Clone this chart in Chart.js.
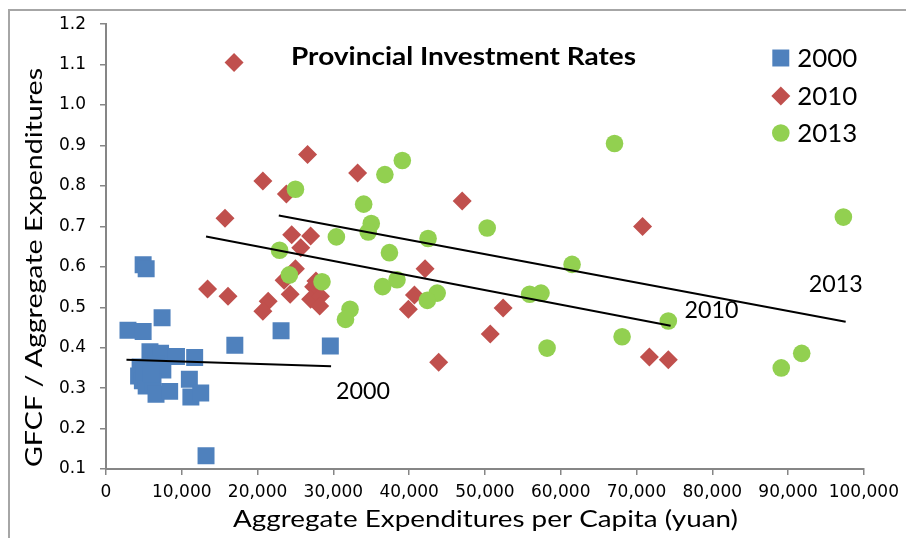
<!DOCTYPE html>
<html><head><meta charset="utf-8">
<script src="https://cdn.jsdelivr.net/npm/chart.js@4.4.1/dist/chart.umd.min.js"></script>
<style>
html,body{margin:0;padding:0;background:#fff;}
#wrap{position:relative;width:906px;height:538px;overflow:hidden;background:#fff;}
#frame{position:absolute;left:8px;top:9px;width:1000px;height:1000px;border:2px solid #a6a6a6;box-sizing:border-box;}
#c{position:absolute;left:0;top:0;}
</style></head><body>
<div id="wrap"><div id="frame"></div><canvas id="c" width="906" height="538"></canvas></div>
<script>
// ---- data ----
const seriesNames = ['2000', '2010', '2013'];
const exp2000 = [2900, 4900, 4900, 5300, 7400, 17000, 23100, 29600, 5800, 7200, 9300, 11700, 4500, 5500, 6600, 7500, 4300, 4800, 5300, 6200, 6600, 8400, 11000, 11200, 12500, 13200, 5000, 6000];
const rate2000 = [0.443, 0.440, 0.605, 0.595, 0.474, 0.406, 0.442, 0.404, 0.390, 0.386, 0.378, 0.376, 0.352, 0.350, 0.360, 0.345, 0.330, 0.318, 0.305, 0.315, 0.285, 0.292, 0.322, 0.278, 0.288, 0.133, 0.340, 0.335];
const exp2010 = [16900, 26600, 20700, 33200, 23800, 15700, 47000, 24500, 27000, 25700, 42100, 25000, 23500, 24300, 27400, 21400, 20700, 27000, 28300, 28200, 40700, 39900, 50700, 43900, 13400, 16100, 52400, 70800, 71700, 74200, 27700];
const rate2010 = [1.105, 0.878, 0.812, 0.832, 0.780, 0.720, 0.763, 0.679, 0.676, 0.647, 0.595, 0.595, 0.567, 0.532, 0.551, 0.515, 0.490, 0.520, 0.527, 0.503, 0.530, 0.495, 0.434, 0.364, 0.545, 0.527, 0.498, 0.700, 0.377, 0.370, 0.565];
const exp2013 = [39100, 36800, 25000, 34000, 35000, 34600, 30400, 42500, 50300, 37400, 22900, 24200, 28500, 38400, 36500, 43700, 42400, 32200, 31600, 67100, 61500, 55900, 57400, 74200, 68100, 58200, 97300, 91800, 89100];
const rate2013 = [0.863, 0.828, 0.792, 0.755, 0.707, 0.686, 0.674, 0.670, 0.696, 0.635, 0.641, 0.580, 0.563, 0.568, 0.551, 0.535, 0.517, 0.495, 0.470, 0.905, 0.606, 0.532, 0.535, 0.466, 0.427, 0.399, 0.723, 0.386, 0.350];
// trend lines (end points)
const trendX2000 = [2700, 29700];  const trendY2000 = [0.370, 0.354];
const trendX2010 = [13200, 74500]; const trendY2010 = [0.675, 0.454];
const trendX2013 = [22800, 97600]; const trendY2013 = [0.727, 0.464];
// trend labels (data coords of text centre)
const trendLabelText = ['2000', '2010', '2013'];
const trendLabelX = [33900, 79900, 96300];
const trendLabelY = [0.293, 0.495, 0.558];
// ticks
const xTickValues = [0, 10000, 20000, 30000, 40000, 50000, 60000, 70000, 80000, 90000, 100000];
const yTickValues = [0.1, 0.2, 0.3, 0.4, 0.5, 0.6, 0.7, 0.8, 0.9, 1.0, 1.1, 1.2];
const chartTitle = 'Provincial Investment Rates';
const xTitle = 'Aggregate Expenditures per Capita (yuan)';
const yTitle = 'GFCF / Aggregate Expenditures';

// ---- build ----
const pts = (xs, ys) => xs.map((x, i) => ({x: x, y: ys[i]}));
const colors = ['#4F81BD', '#C0504D', '#92D050'];
const styles = ['rect', 'rectRot', 'circle'];
const radii = [12, 9.5, 8.8];
function markerSet(i, xs, ys, order) {
  return {label: seriesNames[i], data: pts(xs, ys), pointStyle: styles[i], pointRadius: radii[i], pointHoverRadius: radii[i],
    backgroundColor: colors[i], borderColor: colors[i], pointBorderWidth: 0, showLine: false, order: order};
}
function trendSet(xs, ys) {
  return {label: 'trend', data: pts(xs, ys), showLine: true, pointRadius: 0, borderColor: '#000', borderWidth: 2, fill: false, order: 0};
}
function fmtThousands(v) { return String(Math.round(v)).replace(/\B(?=(\d{3})+(?!\d))/g, ','); }

function fitText(ctx, text, x, y, width, font, align) {
  ctx.save();
  ctx.font = font;
  const w = ctx.measureText(text).width;
  ctx.translate(x, y);
  ctx.scale(width / w, 1);
  ctx.textAlign = align || 'center';
  ctx.textBaseline = 'alphabetic';
  ctx.fillStyle = '#000';
  ctx.fillText(text, 0, 0);
  ctx.restore();
}

const annot = {
  id: 'annot',
  afterDraw(chart) {
    const ctx = chart.ctx, xs = chart.scales.x, ys = chart.scales.y;
    // title
    fitText(ctx, chartTitle, 463.5, 65, 345, 'bold 25px Lato');
    // legend
    const legY = [58, 96, 133];
    const legBase = [67, 105, 142];
    for (let i = 0; i < 3; i++) {
      ctx.save();
      ctx.fillStyle = colors[i]; ctx.strokeStyle = colors[i]; ctx.lineWidth = 0;
      Chart.helpers.drawPoint(ctx, {pointStyle: styles[i], radius: radii[i], borderWidth: 0}, 780.8, legY[i]);
      ctx.restore();
      fitText(ctx, seriesNames[i], 797.3, legBase[i], 60, '25px Lato', 'left');
    }
    // trend labels
    for (let i = 0; i < trendLabelText.length; i++) {
      const cx = xs.getPixelForValue(trendLabelX[i]);
      const cy = ys.getPixelForValue(trendLabelY[i]);
      fitText(ctx, trendLabelText[i], cx, cy + 8.3, 54, '23px Lato');
    }
    // axis titles
    fitText(ctx, xTitle, 485.5, 527, 505, '24px Lato');
    ctx.save();
    ctx.translate(42, 267.5);
    ctx.rotate(-Math.PI / 2);
    fitText(ctx, yTitle, 0, 0, 399, '23px Lato');
    ctx.restore();
  }
};

const axisColor = '#868686';
new Chart(document.getElementById('c'), {
  type: 'scatter',
  data: {datasets: [
    trendSet(trendX2000, trendY2000),
    trendSet(trendX2010, trendY2010),
    trendSet(trendX2013, trendY2013),
    markerSet(0, exp2000, rate2000, 3),
    markerSet(1, exp2010, rate2010, 2),
    markerSet(2, exp2013, rate2013, 1)
  ]},
  options: {
    responsive: false, animation: false, events: [],
    layout: {padding: {top: 21, right: 40, bottom: 0, left: 0}},
    plugins: {legend: {display: false}, tooltip: {enabled: false}, title: {display: false}},
    scales: {
      x: {type: 'linear', min: 0, max: 100000,
        afterBuildTicks: s => { s.ticks = xTickValues.map(v => ({value: v})); },
        afterFit: s => { s.height = 69; },
        ticks: {callback: v => fmtThousands(v), font: {family: 'DejaVu Sans', size: 17}, color: '#000', padding: 7, maxRotation: 0, autoSkip: false},
        grid: {display: true, drawOnChartArea: false, drawTicks: true, tickLength: 6, color: axisColor, lineWidth: 1.5},
        border: {display: true, color: axisColor, width: 2}
      },
      y: {type: 'linear', min: 0.1, max: 1.2,
        afterBuildTicks: s => { s.ticks = yTickValues.map(v => ({value: v})); },
        afterFit: s => { s.width = 106; },
        ticks: {callback: v => Number(v).toFixed(1), font: {family: 'DejaVu Sans', size: 17}, color: '#000', padding: 14, autoSkip: false},
        grid: {display: true, drawOnChartArea: false, drawTicks: true, tickLength: 6, color: axisColor, lineWidth: 1.5},
        border: {display: true, color: axisColor, width: 2}
      }
    }
  },
  plugins: [annot]
});
</script>
</body></html>
